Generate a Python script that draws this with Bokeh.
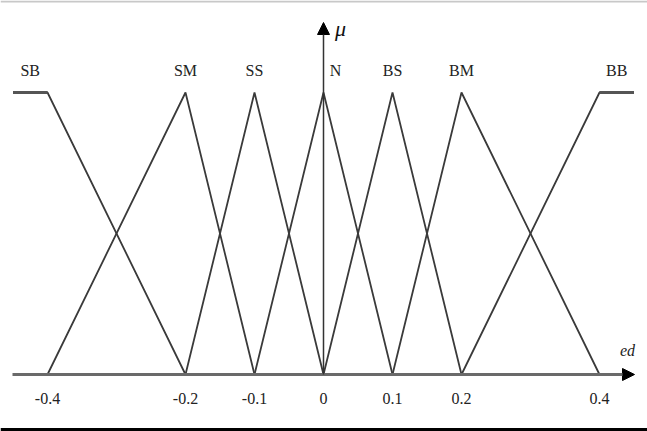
from bokeh.plotting import figure
from bokeh.models import Range1d, Arrow, NormalHead, Span, ColumnDataSource
from bokeh.core.properties import value
from bokeh.embed import file_html
from bokeh.resources import INLINE

# ---- data ----
set_names = ["SB", "SM", "SS", "N", "BS", "BM", "BB"]
sb_x = [-0.45, -0.4, -0.2]
sb_mu = [1, 1, 0]
sm_x = [-0.4, -0.2, -0.1]
sm_mu = [0, 1, 0]
ss_x = [-0.2, -0.1, 0.0]
ss_mu = [0, 1, 0]
n_x = [-0.1, 0.0, 0.1]
n_mu = [0, 1, 0]
bs_x = [0.0, 0.1, 0.2]
bs_mu = [0, 1, 0]
bm_x = [0.1, 0.2, 0.4]
bm_mu = [0, 1, 0]
bb_x = [0.2, 0.4, 0.45]
bb_mu = [0, 1, 1]
label_x = [-0.425, -0.2, -0.1, 0.0, 0.1, 0.2, 0.425]
x_ticks = [-0.4, -0.2, -0.1, 0.0, 0.1, 0.2, 0.4]
tick_labels = ["-0.4", "-0.2", "-0.1", "0", "0.1", "0.2", "0.4"]

W, H = 647, 431
PX = 690.0   # pixels per unit on x
PY = 282.0   # pixels per unit of membership
X0, X1 = -323 / PX, (W - 323) / PX
Y0, Y1 = -(H - 374) / PY, 374 / PY

p = figure(width=W, height=H, output_backend="svg", toolbar_location=None,
           x_range=Range1d(X0, X1), y_range=Range1d(Y0, Y1),
           min_border=0, min_border_left=0, min_border_right=0,
           min_border_top=0, min_border_bottom=0)
p.axis.visible = False
p.grid.visible = False
p.outline_line_color = None
p.background_fill_color = "white"

FONT = value("Liberation Serif")
LC = "#3a3a3a"

for xs, ys in [(sb_x, sb_mu), (sm_x, sm_mu), (ss_x, ss_mu), (n_x, n_mu),
               (bs_x, bs_mu), (bm_x, bm_mu), (bb_x, bb_mu)]:
    p.line(xs, ys, line_color=LC, line_width=1.8)

# thicker plateaus
p.line(sb_x[:2], sb_mu[:2], line_color="#555555", line_width=3)
p.line(bb_x[1:], bb_mu[1:], line_color="#555555", line_width=3)

# horizontal axis with arrow
p.add_layout(Arrow(x_start=(12 - 323) / PX, y_start=0, x_end=(634 - 323) / PX, y_end=0,
                   line_color="#6a6a6a", line_width=3,
                   end=NormalHead(size=12, fill_color="black", line_color="black")))
# vertical axis with arrow
p.add_layout(Arrow(x_start=0, y_start=0, x_end=0, y_end=(374 - 22) / PY,
                   line_color="#333333", line_width=1.5,
                   end=NormalHead(size=12, fill_color="black", line_color="black")))

# set labels
offs = [0, 0, 0, 12, 0, 0, 0]
src = ColumnDataSource(dict(x=label_x, y=[(374 - 70) / PY] * len(set_names), t=set_names, o=offs))
p.text(x="x", y="y", text="t", x_offset="o", source=src, text_font=FONT,
       text_font_size="16px", text_align="center", text_baseline="middle",
       text_color="#222222")

# tick labels
tsrc = ColumnDataSource(dict(x=x_ticks, y=[-(398 - 374) / PY] * len(x_ticks), t=tick_labels))
p.text(x="x", y="y", text="t", source=tsrc, text_font=FONT,
       text_font_size="16px", text_align="center", text_baseline="middle",
       text_color="#222222")

# axis names
p.text(x=[0], y=[(374 - 28) / PY], text=["\u03bc"], x_offset=17, text_font=FONT,
       text_font_style="italic", text_font_size="22px", text_align="center",
       text_baseline="middle", text_color="#111111")
p.text(x=[(627 - 323) / PX], y=[(374 - 350) / PY], text=["ed"], text_font=FONT,
       text_font_style="italic", text_font_size="16px", text_align="center",
       text_baseline="middle", text_color="#222222")

# frame lines
p.add_layout(Span(location=-(429 - 374) / PY, dimension="width", line_color="black", line_width=3))
p.add_layout(Span(location=(374 - 1) / PY, dimension="width", line_color="#c8c8c8", line_width=2))

open("out.html", "w").write(file_html(p, INLINE))
